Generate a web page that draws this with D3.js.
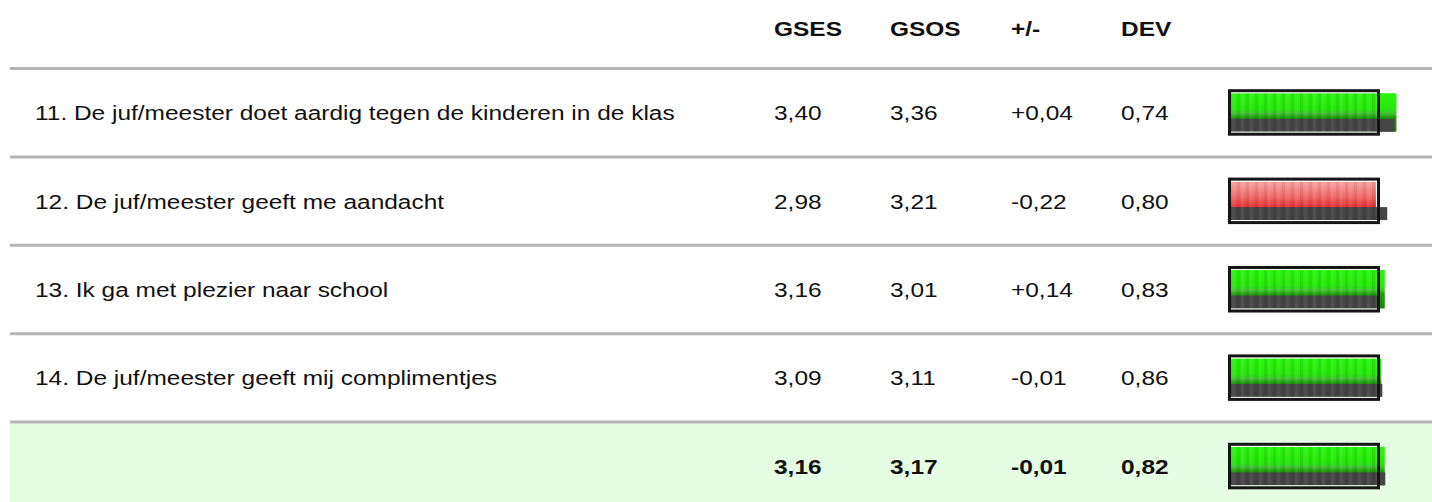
<!DOCTYPE html>
<meta charset="utf-8">
<head>
    <title>GSES / GSOS</title>
</head>
<style>
    body { margin: 0; background: #fff; }
    text { font-family: "Liberation Sans", Arial, sans-serif; fill: #111; }
    .sep { stroke: #b4b4b4; stroke-width: 3px; }
    .head { font-weight: bold; font-size: 21px; }
    .cell { font-size: 21px; }
    .total { font-weight: bold; }
</style>
<script src="https://d3js.org/d3.v7.min.js"></script>
<div id="my_viz"></div>
<script>

    // data
    var labels = [
        "11. De juf/meester doet aardig tegen de kinderen in de klas",
        "12. De juf/meester geeft me aandacht",
        "13. Ik ga met plezier naar school",
        "14. De juf/meester geeft mij complimentjes",
        ""
    ];
    var gses = [3.40, 2.98, 3.16, 3.09, 3.16];
    var gsos = [3.36, 3.21, 3.01, 3.11, 3.17];
    var diff = [0.04, -0.22, 0.14, -0.01, -0.01];
    var dev = [0.74, 0.80, 0.83, 0.86, 0.82];
    var columns = ["GSES", "GSOS", "+/-", "DEV"];

    var width = 1432, height = 502;
    var top0 = 68.5, rowH = 88.4;
    var colX = [774, 890, 1011, 1121];
    var stretch = 1.165;   // the text in the picture is a bit wide

    var svg = d3.select("#my_viz")
        .append("svg")
        .attr("width", width)
        .attr("height", height);

    var defs = svg.append("defs");

    function grad(id, stops) {
        var g = defs.append("linearGradient").attr("id", id)
            .attr("x1", 0).attr("y1", 0).attr("x2", 0).attr("y2", 1);
        stops.forEach(function (s) {
            g.append("stop").attr("offset", s[0]).attr("stop-color", s[1]);
        });
    }
    grad("gGreen", [["0%", "#2cf410"], ["40%", "#28e80c"], ["47%", "#30d81c"],
                    ["52%", "#46c237"], ["63%", "#1c9e08"], ["100%", "#138a00"]]);
    grad("gRed", [["0%", "#f7a3a3"], ["35%", "#f27272"], ["65%", "#e83636"], ["100%", "#d92020"]]);

    // faint vertical stripes inside the frame
    var pat = defs.append("pattern").attr("id", "stripes")
        .attr("patternUnits", "userSpaceOnUse")
        .attr("width", 9).attr("height", 10).attr("x", 1231);
    pat.append("rect").attr("x", 6).attr("width", 3).attr("height", 10)
        .attr("fill", "#000").attr("opacity", 0.07);
    pat.append("rect").attr("x", 1).attr("width", 3).attr("height", 10)
        .attr("fill", "#fff").attr("opacity", 0.05);

    var x = d3.scaleLinear().domain([0, 3]).range([1231, 1377]);
    var loc = d3.formatLocale({ decimal: ",", thousands: ".", grouping: [3], currency: ["", ""], minus: "-" });
    var nl = loc.format(".2f");
    var sgn = loc.format("+.2f");

    function stretched(sel, px, py) {
        return sel.attr("transform", "translate(" + px + "," + py + ") scale(" + stretch + ",1)");
    }

    // summary row background
    svg.append("rect")
        .attr("x", 10).attr("y", top0 + rowH * 4 + 1.5)
        .attr("width", width - 10).attr("height", height - (top0 + rowH * 4))
        .attr("fill", "#e5fde3");

    // header
    svg.selectAll(".head")
        .data(columns)
        .enter().append("text")
        .attr("class", "head")
        .attr("transform", function (d, i) { return "translate(" + colX[i] + ",36) scale(" + stretch + ",1)"; })
        .text(function (d) { return d; });

    // separator lines
    svg.selectAll(".sep")
        .data(d3.range(5))
        .enter().append("line")
        .attr("class", "sep")
        .attr("x1", 10).attr("x2", width)
        .attr("y1", function (d) { return top0 + rowH * d; })
        .attr("y2", function (d) { return top0 + rowH * d; });

    var rows = svg.selectAll(".row")
        .data(d3.range(labels.length))
        .enter().append("g")
        .attr("class", "row")
        .attr("transform", function (i) { return "translate(0," + (top0 + rowH * i + rowH / 2) + ")"; });

    stretched(rows.append("text").attr("class", "cell"), 35, 7.5)
        .text(function (i) { return labels[i]; });

    var vals = [gses, gsos, diff, dev];
    vals.forEach(function (arr, c) {
        stretched(rows.append("text"), colX[c], 7.5)
            .attr("class", function (i) { return "cell" + (i === labels.length - 1 ? " total" : ""); })
            .text(function (i) { return c === 2 ? sgn(arr[i]) : nl(arr[i]); });
    });

    // bars: GSES coloured, GSOS grey along the bottom third
    var barTop = -19.5, barH = 38.5;
    rows.append("rect")
        .attr("x", x(0)).attr("y", barTop)
        .attr("width", function (i) { return x(gses[i]) - x(0); })
        .attr("height", barH)
        .attr("fill", function (i) { return diff[i] <= -0.1 ? "url(#gRed)" : "url(#gGreen)"; });
    rows.append("rect")
        .attr("x", x(0)).attr("y", barTop + 25.5)
        .attr("width", function (i) { return x(gsos[i]) - x(0); })
        .attr("height", 13)
        .attr("fill", "#454545");
    rows.append("rect")
        .attr("x", x(0)).attr("y", barTop)
        .attr("width", x(3) - x(0)).attr("height", barH)
        .attr("fill", "url(#stripes)");

    // frame at value 3
    rows.append("line")
        .attr("x1", x(0)).attr("x2", x(3))
        .attr("y1", barTop - 0.5).attr("y2", barTop - 0.5)
        .attr("stroke", "#fff").attr("stroke-width", 1);
    rows.append("line")
        .attr("x1", x(0)).attr("x2", x(3))
        .attr("y1", barTop + barH + 0.5).attr("y2", barTop + barH + 0.5)
        .attr("stroke", "#fff").attr("stroke-width", 1);
    rows.append("rect")
        .attr("x", x(0) - 1.5).attr("y", barTop - 2.5)
        .attr("width", x(3) - x(0) + 3).attr("height", barH + 5)
        .attr("fill", "none")
        .attr("stroke", "#151515").attr("stroke-width", 3);

</script>
